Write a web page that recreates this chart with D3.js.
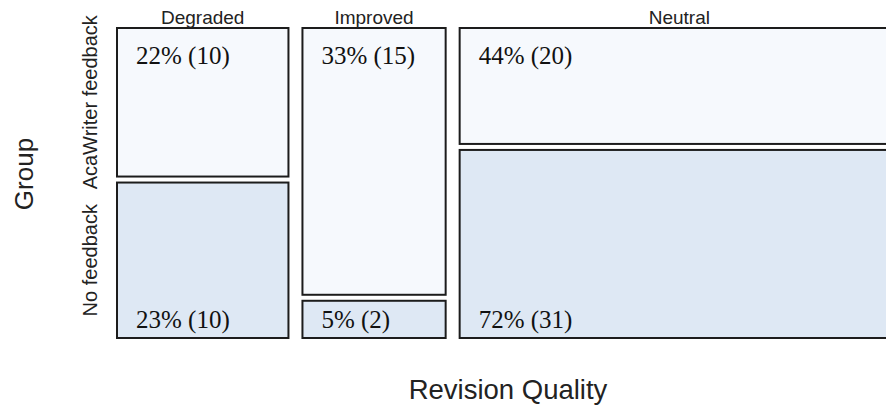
<!DOCTYPE html>
<html>
<head>
<meta charset="utf-8">
<script src="https://cdn.jsdelivr.net/npm/d3@7"></script>
<style>
  body { margin: 0; background: #fff; }
  svg { display: block; }
</style>
</head>
<body>
<div id="chart"></div>
<script>
// data
const qualities = ["Degraded", "Improved", "Neutral"];
const groups = ["AcaWriter feedback", "No feedback"];
const acaWriterCounts = [10, 15, 20];
const noFeedbackCounts = [10, 2, 31];
const cellLabels = [
    ["22% (10)", "33% (15)", "44% (20)"],
    ["23% (10)", "5% (2)", "72% (31)"]
];

const width = 886, height = 412;
const margin = { top: 28, left: 117, bottom: 74 };
const plotRight = 899;          // last column runs past the window edge
const colGap = 14, rowGap = 6;
const fills = ["#f6f9fd", "#dee8f4"];

const svg = d3.select("#chart")
    .append("svg")
    .attr("width", width)
    .attr("height", height);

// row-normalised shares, as in the mosaic
const rows = [acaWriterCounts, noFeedbackCounts];
const shares = rows.map(r => {
    let total = d3.sum(r);
    return r.map(v => v / total);
});
const colTotals = qualities.map((q, i) => shares[0][i] + shares[1][i]);
const colStarts = d3.cumsum([0, ...colTotals]);

// scales
const x = d3.scaleLinear()
    .domain([0, d3.sum(colTotals)])
    .range([0, plotRight - margin.left - colGap * (qualities.length - 1)]);

const plotBottom = height - margin.bottom;
const y = d3.scaleLinear()
    .domain([0, 1])
    .range([0, plotBottom - margin.top - rowGap]);

const cells = [];
qualities.forEach((q, i) => {
    let x0 = margin.left + x(colStarts[i]) + i * colGap;
    let w = x(colTotals[i]);
    let topFrac = shares[0][i] / colTotals[i];
    let hTop = y(topFrac);
    cells.push({ q, row: 0, i, x0, w, y0: margin.top, h: hTop, label: cellLabels[0][i] });
    cells.push({ q, row: 1, i, x0, w, y0: margin.top + hTop + rowGap, h: y(1 - topFrac), label: cellLabels[1][i] });
});

svg.selectAll("rect.cell")
    .data(cells)
    .join("rect")
    .attr("class", "cell")
    .attr("x", d => d.x0)
    .attr("y", d => d.y0)
    .attr("width", d => d.w)
    .attr("height", d => d.h)
    .attr("fill", d => fills[d.row])
    .attr("stroke", "#1c1c1c")
    .attr("stroke-width", 2);

svg.selectAll("text.cell-label")
    .data(cells)
    .join("text")
    .attr("class", "cell-label")
    .attr("x", d => d.x0 + 19)
    .attr("y", d => d.row === 0 ? d.y0 + 36 : d.y0 + d.h - 10)
    .attr("font-family", "'Liberation Serif', 'Times New Roman', serif")
    .attr("font-size", 25)
    .attr("fill", "#111")
    .text(d => d.label);

// column labels
svg.selectAll("text.col-label")
    .data(cells.filter(d => d.row === 0))
    .join("text")
    .attr("class", "col-label")
    .attr("x", d => d.x0 + d.w / 2)
    .attr("y", 24)
    .attr("text-anchor", "middle")
    .attr("font-family", "'Liberation Sans', Arial, sans-serif")
    .attr("font-size", 19)
    .attr("fill", "#222")
    .text(d => d.q);

// row labels (positioned from the first column)
svg.selectAll("text.row-label")
    .data(cells.filter(d => d.i === 0))
    .join("text")
    .attr("class", "row-label")
    .attr("text-anchor", "middle")
    .attr("transform", d => `translate(97,${d.y0 + d.h / 2}) rotate(-90)`)
    .attr("font-family", "'Liberation Sans', Arial, sans-serif")
    .attr("font-size", 20)
    .attr("fill", "#222")
    .text((d, k) => groups[k]);

// axis titles
svg.append("text")
    .attr("text-anchor", "middle")
    .attr("transform", `translate(33,174) rotate(-90)`)
    .attr("font-family", "'Liberation Sans', Arial, sans-serif")
    .attr("font-size", 26)
    .attr("fill", "#222")
    .text("Group");

svg.append("text")
    .attr("text-anchor", "middle")
    .attr("x", (margin.left + plotRight) / 2)
    .attr("y", 399)
    .attr("font-family", "'Liberation Sans', Arial, sans-serif")
    .attr("font-size", 27.5)
    .attr("fill", "#222")
    .text("Revision Quality");
</script>
</body>
</html>
